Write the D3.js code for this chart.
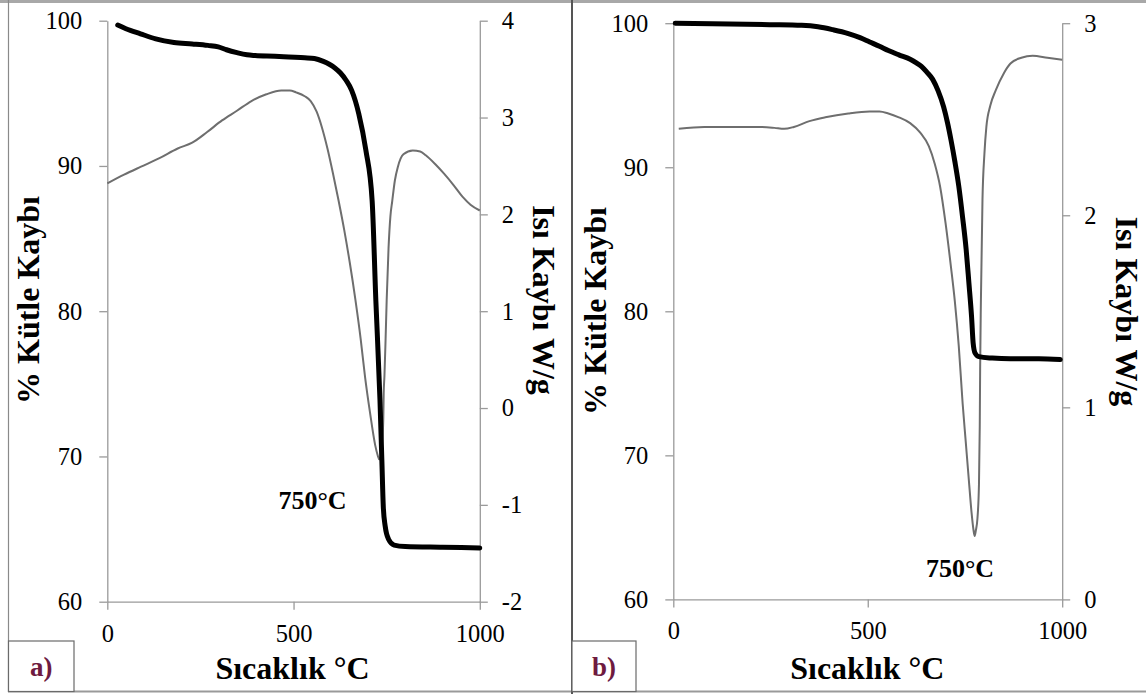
<!DOCTYPE html>
<html>
<head>
<meta charset="utf-8">
<script src="https://cdn.jsdelivr.net/npm/d3@7"></script>
<style>
  html, body { margin: 0; padding: 0; background: #fff; }
  svg { display: block; }
</style>
</head>
<body>
<svg id="chart" width="1146" height="694"></svg>
<script>
// Temperature axis ticks (°C) and value-axis ticks
const tempTicks = [0, 500, 1000];
const massTicks = [60, 70, 80, 90, 100];
const heatTicksA = [-2, -1, 0, 1, 2, 3, 4];
const heatTicksB = [0, 1, 2, 3];

// Panel a) — mass loss (TG, %) vs temperature
const tgTempA = [28, 50, 89, 130, 179, 228, 270, 298, 320, 348, 375, 397, 450, 487, 530, 556, 580, 596, 611, 626, 641, 656, 675, 694, 711, 721, 732, 737, 741, 746, 755, 770, 800, 900, 1000];
const tgMassA = [99.7, 99.45, 99.1, 98.75, 98.5, 98.4, 98.3, 98.2, 98.0, 97.8, 97.65, 97.6, 97.55, 97.5, 97.45, 97.4, 97.2, 97.0, 96.75, 96.4, 95.9, 95.2, 93.6, 91.1, 87.6, 80.7, 73.9, 69.8, 66.5, 65.2, 64.3, 63.9, 63.8, 63.75, 63.7];

// Panel a) — heat flow (DSC, W/g) vs temperature
const dscTempA = [0, 45, 89, 140, 189, 228, 268, 308, 348, 387, 427, 467, 490, 507, 530, 546, 562, 576, 591, 606, 621, 636, 651, 666, 680, 692, 705, 719, 726, 730, 734, 738, 741, 742, 744, 747, 750, 755, 760, 765, 772, 780, 795, 820, 840, 855, 880, 904, 930, 954, 975, 1000];
const dscHeatA = [2.32, 2.41, 2.49, 2.58, 2.68, 2.74, 2.85, 2.97, 3.07, 3.17, 3.24, 3.28, 3.28, 3.26, 3.22, 3.17, 3.06, 2.90, 2.68, 2.42, 2.14, 1.84, 1.50, 1.12, 0.72, 0.32, -0.04, -0.38, -0.49, -0.53, -0.50, -0.35, -0.10, 0.15, 0.33, 0.70, 1.11, 1.65, 1.98, 2.14, 2.35, 2.49, 2.62, 2.66, 2.65, 2.61, 2.52, 2.42, 2.30, 2.18, 2.10, 2.04];

// Panel b) — mass loss (TG, %) vs temperature
const tgTempB = [5, 100, 248, 330, 372, 410, 448, 480, 505, 530, 553, 580, 609, 625, 638, 652, 667, 681, 695, 705, 714, 724, 734, 744, 753, 760, 767, 771, 776, 786, 820, 867, 940, 995];
const tgMassB = [100.0, 99.97, 99.9, 99.85, 99.75, 99.55, 99.3, 99.0, 98.7, 98.4, 98.1, 97.8, 97.5, 97.25, 97.0, 96.6, 96.1, 95.3, 94.2, 93.1, 91.9, 90.4, 88.7, 86.5, 84.3, 82.0, 79.6, 77.8, 77.1, 76.85, 76.75, 76.7, 76.7, 76.65];

// Panel b) — heat flow (DSC, W/g) vs temperature
const dscTempB = [14, 80, 152, 220, 260, 285, 310, 350, 391, 450, 505, 530, 553, 580, 609, 635, 657, 672, 686, 700, 714, 724, 734, 744, 752, 760, 767, 772, 775, 778, 782, 786, 788, 789, 791, 795, 800, 805, 815, 829, 850, 867, 895, 924, 962, 1000];
const dscHeatB = [2.45, 2.46, 2.46, 2.46, 2.455, 2.45, 2.46, 2.49, 2.51, 2.53, 2.54, 2.54, 2.53, 2.51, 2.48, 2.43, 2.36, 2.27, 2.15, 1.96, 1.73, 1.55, 1.32, 1.02, 0.82, 0.62, 0.45, 0.36, 0.33, 0.36, 0.42, 0.60, 0.90, 1.20, 1.56, 2.08, 2.32, 2.46, 2.57, 2.65, 2.74, 2.79, 2.82, 2.83, 2.82, 2.81];

const xTitle = "Sıcaklık °C";
const yLeftTitle = "% Kütle Kaybı";
const yRightTitle = "Isı Kaybı W/g";
const peakLabel = "750°C";

const svg = d3.select("#chart");
const serif = "'Liberation Serif', 'Times New Roman', serif";
const axisGray = "#9a9a9a";

// Outer frame and panel divider
svg.append("line").attr("x1", 0).attr("x2", 1146).attr("y1", 1.5).attr("y2", 1.5)
  .attr("stroke", "#a8a8a8").attr("stroke-width", 3);
svg.append("line").attr("x1", 8.5).attr("x2", 8.5).attr("y1", 0).attr("y2", 692)
  .attr("stroke", "#8a8a8a").attr("stroke-width", 1.2);
svg.append("line").attr("x1", 8).attr("x2", 1146).attr("y1", 691.5).attr("y2", 691.5)
  .attr("stroke", "#9a9a9a").attr("stroke-width", 2);
svg.append("line").attr("x1", 572).attr("x2", 572).attr("y1", 0).attr("y2", 694)
  .attr("stroke", "#555").attr("stroke-width", 2);

function styleAxis(g) {
  g.select(".domain").attr("stroke", axisGray).attr("stroke-width", 1.3);
  g.selectAll(".tick line").attr("stroke", axisGray).attr("stroke-width", 1.3);
  g.selectAll(".tick text").attr("fill", "#000")
    .style("font-family", serif).style("font-size", "24.5px");
}

function drawPanel(p) {
  const x = d3.scaleLinear().domain([0, 1000]).range([p.left, p.right]);
  const yL = d3.scaleLinear().domain([60, 100]).range([p.bottom, p.top]);
  const yR = d3.scaleLinear().domain(p.heatDomain).range([p.bottom, p.top]);

  const gx = svg.append("g").attr("transform", `translate(0,${p.bottom})`)
    .call(d3.axisBottom(x).tickValues(tempTicks).tickFormat(d3.format("d"))
      .tickSize(8).tickSizeOuter(0).tickPadding(14.5));
  styleAxis(gx);

  const gl = svg.append("g").attr("transform", `translate(${p.left},0)`)
    .call(d3.axisLeft(yL).tickValues(massTicks).tickFormat(d3.format("d"))
      .tickSize(8).tickSizeOuter(0).tickPadding(17));
  styleAxis(gl);

  const gr = svg.append("g").attr("transform", `translate(${p.right},0)`)
    .call(d3.axisRight(yR).tickValues(p.heatTicks).tickFormat(d3.format("d"))
      .tickSize(8).tickSizeOuter(0).tickPadding(14));
  styleAxis(gr);
  gr.selectAll(".tick text").text(d => d < 0 ? "-" + Math.abs(d) : d);

  // DSC curve (thin gray), then TG curve (thick black) on top
  const dsc = p.dscT.map((t, i) => [t, p.dscV[i]]);
  const tg = p.tgT.map((t, i) => [t, p.tgV[i]]);

  svg.append("path").datum(dsc)
    .attr("fill", "none").attr("stroke", "#6e6e6e").attr("stroke-width", 2)
    .attr("d", d3.line().x(d => x(d[0])).y(d => yR(d[1])).curve(d3.curveMonotoneX));

  svg.append("path").datum(tg)
    .attr("fill", "none").attr("stroke", "#000").attr("stroke-width", 5)
    .attr("stroke-linecap", "round").attr("stroke-linejoin", "round")
    .attr("d", d3.line().x(d => x(d[0])).y(d => yL(d[1])).curve(d3.curveMonotoneX));

  // Axis titles
  svg.append("text")
    .attr("transform", `translate(${p.leftTitleX},${p.leftTitleY}) rotate(-90)`)
    .attr("text-anchor", "middle").style("font-family", serif)
    .style("font-size", "32px").style("font-weight", "bold").text(yLeftTitle);

  svg.append("text")
    .attr("transform", `translate(${p.rightTitleX},${p.rightTitleY}) rotate(90)`)
    .attr("text-anchor", "middle").style("font-family", serif)
    .style("font-size", "32px").style("font-weight", "bold").text(yRightTitle);

  svg.append("text")
    .attr("x", p.xTitleX).attr("y", 679)
    .attr("text-anchor", "middle").style("font-family", serif)
    .style("font-size", "32px").style("font-weight", "bold").text(xTitle);

  // Peak annotation
  svg.append("text")
    .attr("x", p.peakX).attr("y", p.peakY)
    .attr("text-anchor", "middle").style("font-family", serif)
    .style("font-size", "26px").style("font-weight", "bold").text(peakLabel);

  // Panel tag box
  svg.append("rect")
    .attr("x", p.tagX0).attr("y", 641).attr("width", p.tagW).attr("height", 50.5)
    .attr("fill", "#fff").attr("stroke", "#6a6a6a").attr("stroke-width", 1.2);
  svg.append("text")
    .attr("x", p.tagX0 + p.tagW / 2).attr("y", 675.5)
    .attr("text-anchor", "middle").style("font-family", serif)
    .style("font-size", "27px").style("font-weight", "bold")
    .attr("fill", "#6e1a40").text(p.tag);
}

drawPanel({
  left: 107.3, right: 479.8, top: 20.7, bottom: 601.7,
  heatDomain: [-2, 4], heatTicks: heatTicksA,
  tgT: tgTempA, tgV: tgMassA, dscT: dscTempA, dscV: dscHeatA,
  leftTitleX: 39, leftTitleY: 300,
  rightTitleX: 533, rightTitleY: 300,
  xTitleX: 292.5,
  peakX: 312.5, peakY: 509,
  tagX0: 8.5, tagW: 65.5, tag: "a)"
});

drawPanel({
  left: 673.3, right: 1062.2, top: 23.2, bottom: 599.4,
  heatDomain: [0, 3], heatTicks: heatTicksB,
  tgT: tgTempB, tgV: tgMassB, dscT: dscTempB, dscV: dscHeatB,
  leftTitleX: 605.5, leftTitleY: 311,
  rightTitleX: 1116, rightTitleY: 311.5,
  xTitleX: 867.3,
  peakX: 960, peakY: 576.5,
  tagX0: 572, tagW: 64, tag: "b)"
});
</script>
</body>
</html>
